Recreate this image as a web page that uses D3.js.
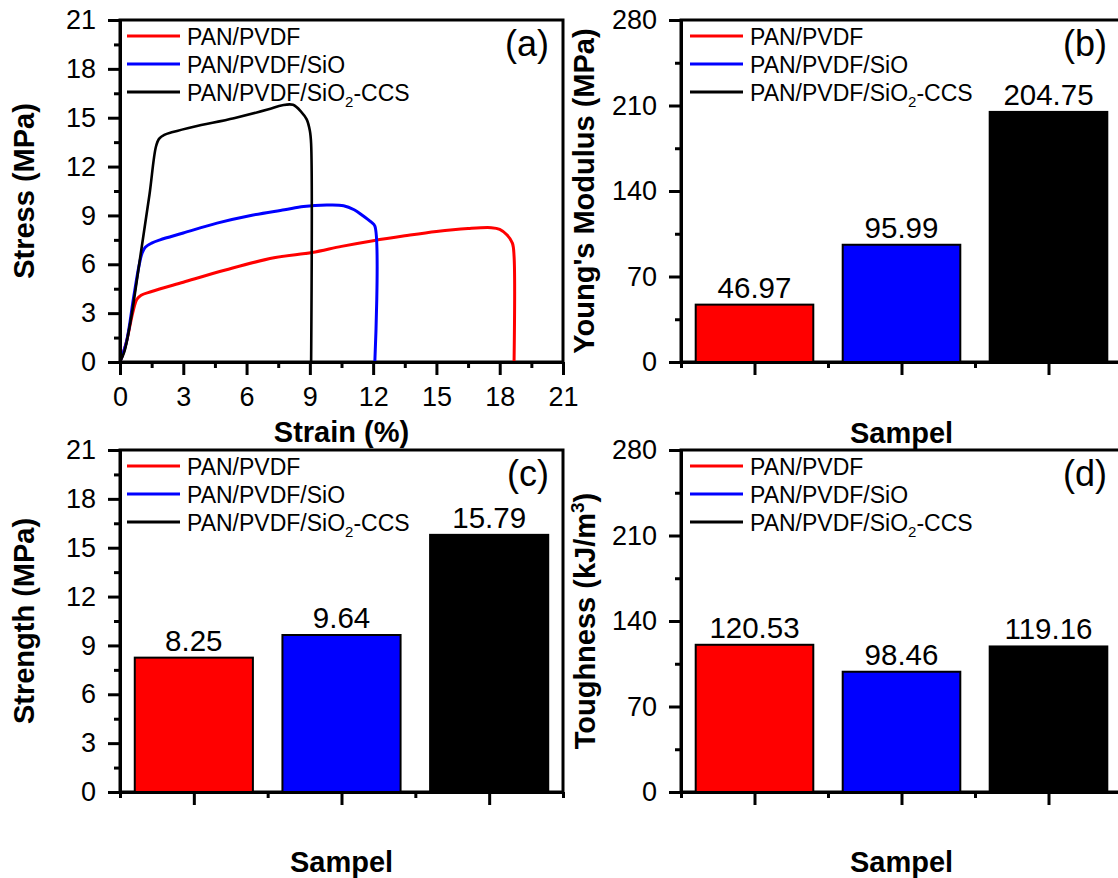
<!DOCTYPE html>
<html>
<head>
<meta charset="utf-8">
<script src="https://cdn.jsdelivr.net/npm/d3@7"></script>
<style>
  body { margin: 0; background: #fff; }
  svg { display: block; font-family: "Liberation Sans", Arial, sans-serif; }
</style>
</head>
<body>
<svg id="fig" width="1118" height="878"></svg>
<script>
// ---- data ----
const sampleNames = ["PAN/PVDF", "PAN/PVDF/SiO", "PAN/PVDF/SiO2-CCS"];
const sampleColors = ["#ff0000", "#0000ff", "#000000"];

// stress–strain curves: [strain (%), stress (MPa)]
const curvePanPvdf = [
  [0, 0], [0.3, 1.2], [0.6, 3.0], [0.8, 3.85], [1.0, 4.1], [1.5, 4.33], [3.0, 4.9],
  [5.0, 5.65], [7.3, 6.4], [9.1, 6.72], [10.5, 7.1], [12.0, 7.45], [13.5, 7.75],
  [15.0, 8.02], [16.5, 8.2], [17.6, 8.25], [18.0, 8.15], [18.35, 7.8], [18.6, 7.3],
  [18.68, 6.5], [18.68, 0]
];
const curvePanPvdfSiO = [
  [0, 0], [0.3, 1.2], [0.65, 4.0], [0.9, 5.9], [1.05, 6.7], [1.2, 7.05], [1.5, 7.3],
  [1.9, 7.5], [3.0, 7.92], [4.6, 8.53], [6.2, 9.0], [7.8, 9.35], [8.7, 9.55],
  [9.8, 9.64], [10.6, 9.6], [11.1, 9.35], [11.5, 9.0], [11.9, 8.6], [12.08, 8.35],
  [12.08, 0]
];
const curvePanPvdfCcs = [
  [0, 0], [0.2, 0.6], [0.5, 2.5], [1.0, 6.8], [1.4, 10.3], [1.7, 13.2], [1.85, 13.7],
  [2.1, 13.95], [2.5, 14.12], [3.5, 14.45], [5.4, 14.97], [7.0, 15.5], [7.7, 15.77],
  [8.2, 15.79], [8.6, 15.35], [8.85, 14.9], [9.0, 14.2], [9.06, 13.4], [9.06, 0]
];
const stressCurves = [curvePanPvdf, curvePanPvdfSiO, curvePanPvdfCcs];

const youngsModulus = [46.97, 95.99, 204.75];   // MPa
const strength = [8.25, 9.64, 15.79];           // MPa
const toughness = [120.53, 98.46, 119.16];      // kJ/m3

const strainTicks = [0, 3, 6, 9, 12, 15, 18, 21];
const strainMinorTicks = [1.5, 4.5, 7.5, 10.5, 13.5, 16.5, 19.5];
const stressTicks = [0, 3, 6, 9, 12, 15, 18, 21];
const stressMinorTicks = [1.5, 4.5, 7.5, 10.5, 13.5, 16.5, 19.5];
const modulusTicks = [0, 70, 140, 210, 280];
const modulusMinorTicks = [35, 105, 175, 245];
const sampleTicks = [1, 2, 3];
const sampleMinorTicks = [0.5, 1.5, 2.5, 3.5];

// ---- drawing ----
const svg = d3.select("#fig");
svg.append("rect").attr("width", 1118).attr("height", 878).attr("fill", "#fff");

const AXIS_W = 3;
const TICK_FONT = 27;

function styleAxis(g) {
  g.selectAll(".domain").attr("stroke", "#000").attr("stroke-width", AXIS_W);
  g.selectAll(".tick line").attr("stroke", "#000").attr("stroke-width", AXIS_W);
  g.selectAll(".tick text")
    .attr("fill", "#000")
    .attr("font-size", TICK_FONT)
    .attr("font-family", "'Liberation Sans', Arial, sans-serif");
  g.attr("font-size", null).attr("font-family", null);
}

function makePanel(opt) {
  const g = svg.append("g");
  const x = d3.scaleLinear().domain(opt.xDomain).range([opt.left, opt.right]);
  const y = d3.scaleLinear().domain(opt.yDomain).range([opt.bottom, opt.top]);

  // plot frame (top and right edges)
  g.append("rect")
    .attr("x", opt.left).attr("y", opt.top)
    .attr("width", opt.right - opt.left).attr("height", opt.bottom - opt.top)
    .attr("fill", "none").attr("stroke", "#000").attr("stroke-width", AXIS_W);

  const marks = g.append("g");

  // minor ticks
  g.append("g").attr("transform", `translate(0,${opt.bottom})`)
    .call(d3.axisBottom(x).tickValues(opt.xMinor).tickSize(6).tickSizeOuter(0).tickFormat(""))
    .call(styleAxis);
  g.append("g").attr("transform", `translate(${opt.left},0)`)
    .call(d3.axisLeft(y).tickValues(opt.yMinor).tickSize(6).tickSizeOuter(0).tickFormat(""))
    .call(styleAxis);
  // major ticks with labels
  g.append("g").attr("transform", `translate(0,${opt.bottom})`)
    .call(d3.axisBottom(x).tickValues(opt.xMajor).tickSize(13).tickSizeOuter(0).tickPadding(12)
      .tickFormat(opt.xLabels ? d3.format("d") : ""))
    .call(styleAxis);
  g.append("g").attr("transform", `translate(${opt.left},0)`)
    .call(d3.axisLeft(y).tickValues(opt.yMajor).tickSize(12).tickSizeOuter(0).tickPadding(12)
      .tickFormat(d3.format("d")))
    .call(styleAxis);

  // x-axis title
  g.append("text")
    .attr("x", (opt.left + Math.min(opt.right, 1118 + 4)) / 2)
    .attr("y", opt.xTitleY)
    .attr("text-anchor", "middle")
    .attr("font-size", 29).attr("font-weight", "bold")
    .text(opt.xTitle);

  // y-axis title
  const yt = g.append("text")
    .attr("transform", `translate(${opt.yTitleX},${(opt.top + opt.bottom) / 2}) rotate(-90)`)
    .attr("text-anchor", "middle")
    .attr("font-size", 29).attr("font-weight", "bold");
  opt.yTitle(yt);

  // panel letter
  g.append("text")
    .attr("x", opt.letterX).attr("y", opt.top + 36)
    .attr("text-anchor", "end")
    .attr("font-size", 36)
    .text(opt.letter);

  // legend
  const lg = g.append("g").attr("transform", `translate(${opt.legendX},${opt.top + 16})`);
  sampleNames.forEach((name, i) => {
    const row = lg.append("g").attr("transform", `translate(0,${i * 28})`);
    row.append("line").attr("x1", 0).attr("x2", 53).attr("y1", 0).attr("y2", 0)
      .attr("stroke", sampleColors[i]).attr("stroke-width", 3);
    const t = row.append("text").attr("x", 60).attr("y", 8.5).attr("font-size", 23);
    const m = name.match(/^(.*SiO)2(-.*)$/);
    if (m) {
      t.append("tspan").text(m[1]);
      t.append("tspan").attr("font-size", 15).attr("dy", 6).text("2");
      t.append("tspan").attr("dy", -6).text(m[2]);
    } else {
      t.text(name);
    }
  });

  return { g, marks, x, y };
}

function barPanel(opt, values) {
  const p = makePanel(Object.assign({
    xDomain: [0.5, 3.5],
    xMajor: sampleTicks, xMinor: sampleMinorTicks, xLabels: false,
    xTitle: "Sampel"
  }, opt));
  const half = 0.4;
  p.marks.selectAll("rect.bar").data(values).join("rect")
    .attr("class", "bar")
    .attr("x", (d, i) => p.x(i + 1 - half))
    .attr("width", (d, i) => p.x(i + 1 + half) - p.x(i + 1 - half))
    .attr("y", d => p.y(d))
    .attr("height", d => p.y(0) - p.y(d))
    .attr("fill", (d, i) => sampleColors[i])
    .attr("stroke", "#000").attr("stroke-width", 2);
  p.marks.selectAll("text.val").data(values).join("text")
    .attr("class", "val")
    .attr("x", (d, i) => p.x(i + 1))
    .attr("y", d => p.y(d) - 7)
    .attr("text-anchor", "middle")
    .attr("font-size", 29.5)
    .text(d => d.toFixed(2));
  return p;
}

// (a) stress–strain curves
const pa = makePanel({
  left: 120, right: 563, top: 20, bottom: 362,
  xDomain: [0, 21], yDomain: [0, 21],
  xMajor: strainTicks, xMinor: strainMinorTicks, xLabels: true,
  yMajor: stressTicks, yMinor: stressMinorTicks,
  xTitle: "Strain (%)", xTitleY: 442,
  yTitleX: 34, yTitle: t => t.text("Stress (MPa)"),
  letter: "(a)", letterX: 549, legendX: 127
});
const line = d3.line()
  .x(d => pa.x(d[0])).y(d => pa.y(d[1]))
  .curve(d3.curveCatmullRom.alpha(0.5));
stressCurves.forEach((c, i) => {
  pa.marks.append("path")
    .attr("d", line(c))
    .attr("fill", "none")
    .attr("stroke", sampleColors[i])
    .attr("stroke-width", i === 2 ? 2.6 : 3)
    .attr("stroke-linejoin", "round");
});

// (b) Young's modulus
barPanel({
  left: 681, right: 1122, top: 20, bottom: 362,
  yDomain: [0, 280], yMajor: modulusTicks, yMinor: modulusMinorTicks,
  xTitleY: 443,
  yTitleX: 594, yTitle: t => t.text("Young's Modulus (MPa)"),
  letter: "(b)", letterX: 1107, legendX: 690
}, youngsModulus);

// (c) strength
barPanel({
  left: 120, right: 563, top: 450, bottom: 792,
  yDomain: [0, 21], yMajor: stressTicks, yMinor: stressMinorTicks,
  xTitleY: 872,
  yTitleX: 34, yTitle: t => t.text("Strength (MPa)"),
  letter: "(c)", letterX: 549, legendX: 127
}, strength);

// (d) toughness
barPanel({
  left: 681, right: 1122, top: 450, bottom: 792,
  yDomain: [0, 280], yMajor: modulusTicks, yMinor: modulusMinorTicks,
  xTitleY: 872,
  yTitleX: 595, yTitle: t => {
    t.append("tspan").text("Toughness (kJ/m");
    t.append("tspan").attr("font-size", 19).attr("dy", -11).text("3");
    t.append("tspan").attr("dy", 11).text(")");
  },
  letter: "(d)", letterX: 1107, legendX: 690
}, toughness);
</script>
</body>
</html>
